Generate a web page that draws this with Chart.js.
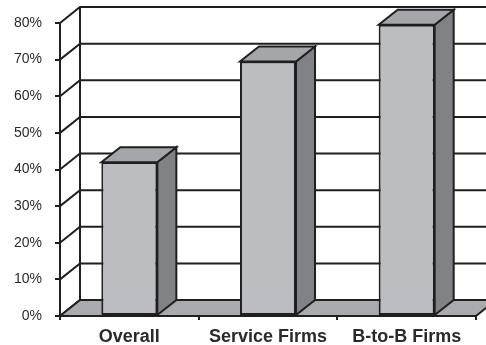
<!DOCTYPE html>
<html>
<head>
<meta charset="utf-8">
<script src="https://cdn.jsdelivr.net/npm/chart.js@4/dist/chart.umd.min.js"></script>
<style>
  html, body { margin: 0; padding: 0; background: #fff; }
  canvas { display: block; }
</style>
</head>
<body>
<canvas id="chart" width="486" height="345"></canvas>
<script>
// Share of firms, by group (percent)
const categories = ['Overall', 'Service Firms', 'B-to-B Firms'];
const shares = [42, 69.5, 79.5];
const yTicks = [0, 10, 20, 30, 40, 50, 60, 70, 80];

const INK = '#1f1f1f';
const WALL_DX = 20, WALL_DY = -16;   // depth of walls / floor
const BAR_DX = 19, BAR_DY = -15;     // depth of each box

// 3D walls, floor and box faces drawn around the regular bars
const box3d = {
  id: 'box3d',
  beforeDatasetsDraw(chart) {
    const { ctx, chartArea: a, scales: { y } } = chart;
    ctx.save();
    ctx.strokeStyle = INK;
    ctx.lineWidth = 2;
    ctx.lineCap = 'butt';
    // back wall grid lines + left wall diagonals
    yTicks.forEach(v => {
      const py = y.getPixelForValue(v);
      ctx.beginPath();
      ctx.moveTo(a.left, py);
      ctx.lineTo(a.left + WALL_DX, py + WALL_DY);
      ctx.lineTo(a.right + WALL_DX, py + WALL_DY);
      ctx.stroke();
    });
    // back corner
    ctx.beginPath();
    ctx.moveTo(a.left + WALL_DX, y.getPixelForValue(80) + WALL_DY);
    ctx.lineTo(a.left + WALL_DX, a.bottom + WALL_DY);
    ctx.stroke();
    // floor
    ctx.beginPath();
    ctx.moveTo(a.left, a.bottom);
    ctx.lineTo(a.right, a.bottom);
    ctx.lineTo(a.right + WALL_DX, a.bottom + WALL_DY);
    ctx.lineTo(a.left + WALL_DX, a.bottom + WALL_DY);
    ctx.closePath();
    ctx.fillStyle = '#a9aaad';
    ctx.fill();
    ctx.stroke();
    ctx.restore();
  },
  afterDatasetsDraw(chart) {
    const { ctx } = chart;
    ctx.save();
    ctx.strokeStyle = INK;
    ctx.lineWidth = 2;
    ctx.lineJoin = 'miter';
    chart.getDatasetMeta(0).data.forEach(bar => {
      const L = bar.x - bar.width / 2, R = bar.x + bar.width / 2;
      const T = bar.y, B = bar.base;
      // side
      ctx.beginPath();
      ctx.moveTo(R, T);
      ctx.lineTo(R + BAR_DX, T + BAR_DY);
      ctx.lineTo(R + BAR_DX, B + BAR_DY);
      ctx.lineTo(R, B);
      ctx.closePath();
      ctx.fillStyle = '#818286';
      ctx.fill();
      ctx.stroke();
      // top
      ctx.beginPath();
      ctx.moveTo(L, T);
      ctx.lineTo(L + BAR_DX, T + BAR_DY);
      ctx.lineTo(R + BAR_DX, T + BAR_DY);
      ctx.lineTo(R, T);
      ctx.closePath();
      ctx.fillStyle = '#a5a6a9';
      ctx.fill();
      ctx.stroke();
    });
    ctx.restore();
  }
};

new Chart(document.getElementById('chart'), {
  type: 'bar',
  data: {
    labels: categories,
    datasets: [{
      data: shares,
      backgroundColor: '#bcbdc1',
      borderColor: INK,
      borderWidth: 2,
      borderSkipped: false,
      categoryPercentage: 1,
      barPercentage: 0.404
    }]
  },
  options: {
    responsive: false,
    animation: false,
    layout: { padding: { top: 23, right: 10, left: 0, bottom: 0 } },
    plugins: { legend: { display: false }, tooltip: { enabled: false } },
    scales: {
      x: {
        afterFit: s => { s.height = 29; },
        grid: { offset: true, drawOnChartArea: false, tickLength: 4, color: INK, lineWidth: 2 },
        border: { display: false },
        ticks: { color: '#2a2a2a', padding: 6, font: { family: 'Liberation Sans, Arial', size: 18, weight: 'bold' } }
      },
      y: {
        min: 0, max: 80,
        afterFit: s => { s.width = 60; },
        afterBuildTicks: s => { s.ticks = yTicks.map(v => ({ value: v })); },
        grid: { drawOnChartArea: false, tickLength: 5, color: INK, lineWidth: 2 },
        border: { display: true, color: INK, width: 2 },
        ticks: { color: '#2a2a2a', padding: 13, callback: v => v + '%', font: { family: 'Liberation Sans, Arial', size: 14 } }
      }
    }
  },
  plugins: [box3d]
});
</script>
</body>
</html>
